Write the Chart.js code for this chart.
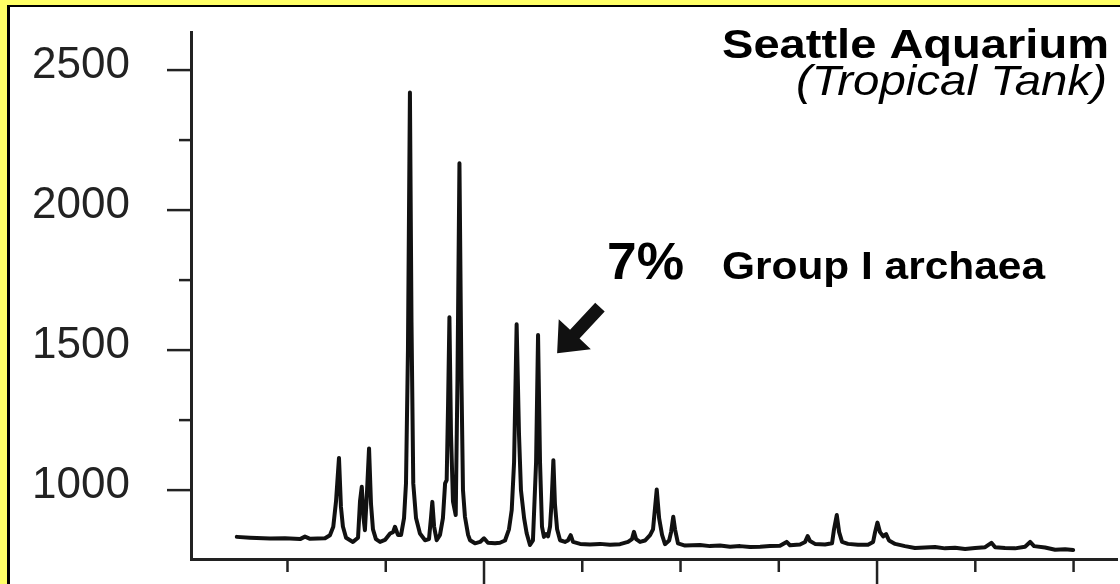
<!DOCTYPE html>
<html>
<head>
<meta charset="utf-8">
<script src="https://cdn.jsdelivr.net/npm/chart.js@4.4.1/dist/chart.umd.min.js"></script>
<style>
    html, body { margin: 0; padding: 0; }
    body { width: 1120px; height: 584px; background: #ffff66; position: relative; overflow: hidden; }
    #panel { position: absolute; left: 7px; top: 5px; right: 0; bottom: 0; background: #fff; border-left: 3px solid #000; border-top: 2px solid #000; }
    #chart { position: absolute; left: 0; top: 0; }
</style>
</head>
<body>
<div id="panel"></div>
<canvas id="chart" width="1120" height="584"></canvas>
<script>
// fragment size (x) and fluorescence signal (y)
const sizes = [
    74.2, 80.9, 91.1, 98.7, 106.4, 108.9, 111.5, 119.1, 121.6, 123.3,
    124.7, 126.2, 127.2, 128.2, 129.8, 133.3, 135.9, 136.9, 137.8, 138.7,
    139.4, 140.5, 141.5, 142.5, 143.5, 145.0, 147.1, 149.6, 152.2, 153.7,
    154.7, 156.2, 157.8, 159.3, 160.3, 161.3, 162.3, 163.1, 164.0, 165.4,
    167.4, 170.0, 172.0, 173.0, 173.7, 174.6, 175.9, 177.6, 179.1, 180.2,
    181.0, 181.7, 182.4, 183.2, 184.2, 185.6, 186.5, 187.5, 188.5, 189.3,
    190.3, 191.9, 192.9, 195.4, 198.0, 200.0, 202.0, 205.6, 208.1, 210.7,
    212.7, 214.1, 215.3, 216.6, 217.8, 218.8, 220.4, 221.7, 223.4, 224.9,
    226.5, 227.5, 228.5, 229.5, 230.5, 231.6, 232.6, 233.6, 234.4, 235.3,
    236.1, 237.2, 238.7, 241.2, 242.7, 244.1, 245.3, 248.9, 253.9, 259.0,
    264.1, 269.2, 273.3, 275.3, 276.3, 277.4, 279.4, 281.9, 284.5, 286.0,
    287.9, 289.1, 290.6, 292.1, 294.2, 295.2, 296.3, 297.2, 298.7, 302.3,
    309.9, 315.0, 320.1, 325.2, 330.3, 335.4, 340.5, 345.5, 350.6, 354.0,
    355.7, 360.8, 363.4, 364.7, 365.9, 368.4, 373.5, 377.1, 378.1, 379.5,
    380.7, 382.2, 385.2, 390.3, 395.4, 398.0, 399.0, 400.2, 401.5, 403.1,
    404.6, 406.1, 409.2, 414.2, 419.3, 424.4, 429.5, 434.6, 439.7, 444.8,
    449.9, 455.0, 458.2, 460.1, 465.1, 470.2, 475.3, 477.9, 479.9, 485.5,
    490.6, 495.7, 499.8
];
const signal = [
    833, 830, 827, 828, 825, 834, 826, 828, 839, 869,
    960, 1115, 940, 870, 830, 815, 830, 960, 1012, 900,
    857, 1000, 1149, 950, 860, 825, 815, 822, 845, 850,
    869, 840, 840, 900, 1024, 1500, 2420, 1600, 1024, 900,
    845, 821, 825, 900, 958, 870, 821, 840, 900, 1024,
    1036, 1300, 1617, 1200, 960, 911, 1400, 2167, 1400, 1000,
    905, 840, 821, 810, 815, 828, 812, 810, 812, 820,
    860, 929, 1100, 1592, 1200, 1000, 900, 846, 804, 820,
    1100, 1554, 1100, 870, 833, 843, 835, 870, 960, 1107,
    950, 860, 821, 815, 820, 839, 815, 808, 806, 808,
    805, 807, 815, 825, 851, 825, 815, 820, 839, 860,
    1002, 900, 840, 807, 820, 850, 905, 860, 810, 802,
    804, 800, 802, 798, 800, 797, 798, 800, 801, 815,
    803, 806, 815, 836, 818, 808, 806, 810, 860, 911,
    850, 815, 808, 805, 805, 815, 850, 884, 850, 835,
    843, 820, 808, 800, 793, 795, 797, 792, 794, 790,
    793, 796, 812, 796, 793, 792, 798, 815, 800, 795,
    787, 789, 786
];

// axis ticks
const yTickValues = [1000, 1250, 1500, 1750, 2000, 2250, 2500];
const yLabelValues = [1000, 1500, 2000, 2500];
const xTickValues = [100, 150, 200, 250, 300, 350, 400, 450, 500];
const xMajorTicks = [200, 400];

// annotation: arrow points at the Group I archaea peak
const arrowTip = { x: 237.2, y: 1489 };

const FONT = "'Liberation Sans', Arial, Helvetica, sans-serif";

function drawStretchedText(ctx, text, x, y, font, width, align) {
    ctx.save();
    ctx.font = font;
    const natural = ctx.measureText(text).width;
    const sx = width / natural;
    ctx.translate(align === "right" ? x - width : x, y);
    ctx.scale(sx, 1);
    ctx.textAlign = "left";
    ctx.textBaseline = "alphabetic";
    ctx.fillStyle = "#000";
    ctx.fillText(text, 0, 0);
    ctx.restore();
}

const decorations = {
    id: "decorations",
    afterDraw(chart) {
        const ctx = chart.ctx;
        const xs = chart.scales.x;
        const ys = chart.scales.y;
        const area = chart.chartArea;

        // tick marks, long for labelled values
        ctx.save();
        ctx.strokeStyle = "#222";
        ctx.lineWidth = 2.5;
        yTickValues.forEach((v) => {
            const py = ys.getPixelForValue(v);
            const len = yLabelValues.includes(v) ? 24 : 12;
            ctx.beginPath();
            ctx.moveTo(area.left - len, py);
            ctx.lineTo(area.left, py);
            ctx.stroke();
        });
        xTickValues.forEach((v) => {
            const px = xs.getPixelForValue(v);
            const len = xMajorTicks.includes(v) ? 26 : 13;
            ctx.beginPath();
            ctx.moveTo(px, area.bottom);
            ctx.lineTo(px, area.bottom + len);
            ctx.stroke();
        });
        ctx.restore();

        // arrow
        const tx = xs.getPixelForValue(arrowTip.x);
        const ty = ys.getPixelForValue(arrowTip.y);
        const dx = 0.68, dy = -0.73;
        const nx = -dy, ny = dx;
        const len = 63, head = 26, hw = 22, sw = 6.5;
        const bx = tx + dx * head, by = ty + dy * head;
        const ex = tx + dx * len, ey = ty + dy * len;
        ctx.save();
        ctx.fillStyle = "#111";
        ctx.beginPath();
        ctx.moveTo(tx, ty);
        ctx.lineTo(bx + nx * hw, by + ny * hw);
        ctx.lineTo(bx + nx * sw, by + ny * sw);
        ctx.lineTo(ex + nx * sw, ey + ny * sw);
        ctx.lineTo(ex - nx * sw, ey - ny * sw);
        ctx.lineTo(bx - nx * sw, by - ny * sw);
        ctx.lineTo(bx - nx * hw, by - ny * hw);
        ctx.closePath();
        ctx.fill();
        ctx.restore();

        // texts
        drawStretchedText(ctx, "Seattle Aquarium", 1109, 58, "bold 41px " + FONT, 387, "right");
        drawStretchedText(ctx, "(Tropical Tank)", 1107, 95, "italic 42px " + FONT, 311, "right");
        drawStretchedText(ctx, "7%", 607, 279, "bold 52px " + FONT, 77, "left");
        drawStretchedText(ctx, "Group I archaea", 722, 279, "bold 39px " + FONT, 323, "left");
    }
};

const trace = sizes.map((x, i) => ({ x: x, y: signal[i] }));

new Chart(document.getElementById("chart"), {
    type: "scatter",
    data: {
        datasets: [
            {
                data: trace,
                showLine: true,
                borderColor: "#111",
                borderWidth: 4,
                borderJoinStyle: "round",
                borderCapStyle: "round",
                pointRadius: 0,
                tension: 0,
            },
        ],
    },
    options: {
        responsive: false,
        animation: false,
        events: [],
        layout: { padding: { top: 32, right: 3, left: 0, bottom: 0 } },
        plugins: {
            legend: { display: false },
            tooltip: { enabled: false },
        },
        scales: {
            x: {
                type: "linear",
                min: 50.9,
                max: 522.1,
                ticks: { display: false },
                grid: { display: false },
                border: { display: true, color: "#222", width: 3 },
                afterFit: (scale) => {
                    scale.height = 25;
                    scale.paddingLeft = 0;
                    scale.paddingRight = 0;
                },
            },
            y: {
                min: 754,
                max: 2636,
                afterBuildTicks: (scale) => {
                    scale.ticks = yTickValues.map((v) => ({ value: v }));
                },
                ticks: {
                    callback: (value) => (yLabelValues.includes(value) ? String(value) : ""),
                    font: { family: FONT, size: 44 },
                    color: "#222",
                    padding: 37,
                    labelOffset: -4,
                },
                grid: {
                    display: true,
                    drawOnChartArea: false,
                    drawTicks: true,
                    tickLength: 24,
                    color: "rgba(0,0,0,0)",
                },
                border: { display: true, color: "#222", width: 3 },
                afterFit: (scale) => {
                    scale.width = 191;
                    scale.paddingTop = 0;
                    scale.paddingBottom = 0;
                },
            },
        },
    },
    plugins: [decorations],
});
</script>
</body>
</html>
